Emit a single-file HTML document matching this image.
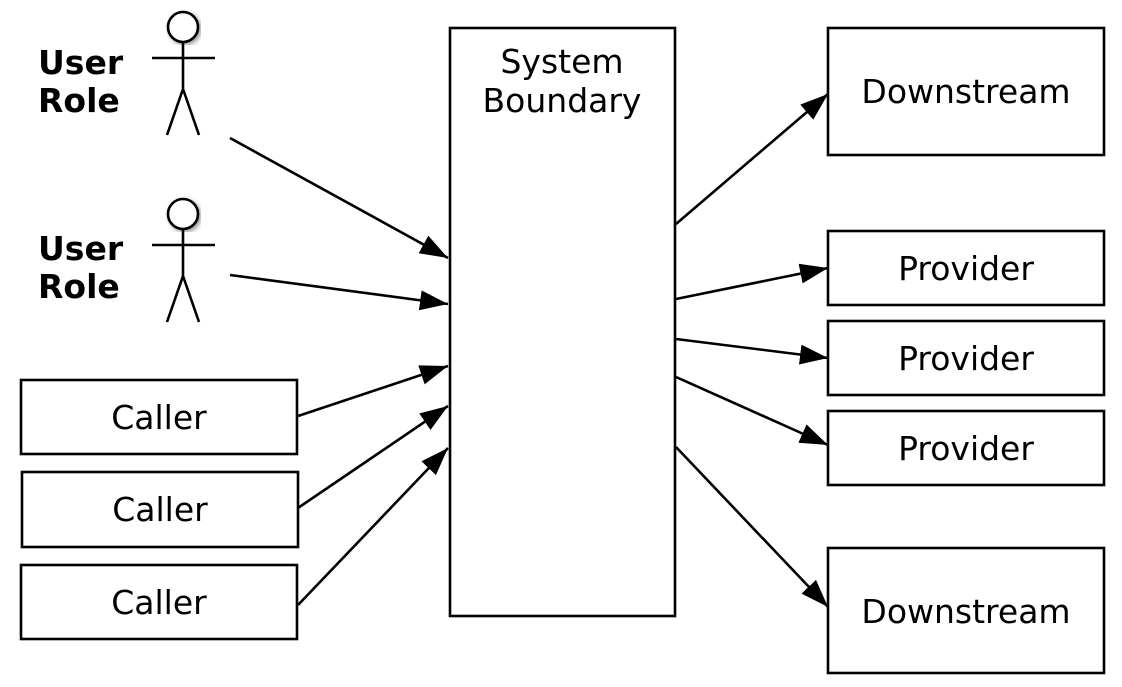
<!DOCTYPE html>
<html><head><style>body{margin:0;background:#fff}</style></head><body>
<svg width="1122" height="682" xmlns="http://www.w3.org/2000/svg" font-family="DejaVu Sans, sans-serif">
<defs>
<marker id="ah" viewBox="0 0 28 20" refX="28" refY="10" markerWidth="28" markerHeight="20" markerUnits="userSpaceOnUse" orient="auto"><path d="M0,0 L28,10 L0,20 z" fill="#000"/></marker>
<filter id="sh"><feDropShadow dx="2" dy="2" stdDeviation="2" flood-opacity="0.4"/></filter>
</defs>
<g fill="none" stroke="#000" stroke-width="2.6">
<rect x="450" y="28" width="225" height="588"/>
<rect x="828" y="28" width="276" height="127"/>
<rect x="828" y="231" width="276" height="74"/>
<rect x="828" y="321" width="276" height="74"/>
<rect x="828" y="411" width="276" height="74"/>
<rect x="828" y="548" width="276" height="125"/>
<rect x="21" y="380" width="276" height="74"/>
<rect x="22" y="472" width="276" height="75"/>
<rect x="21" y="565" width="276" height="74"/>
<circle cx="183" cy="27" r="15" fill="#fff" filter="url(#sh)"/>
<path d="M152,58H215M183,42V89L167,135M183,89L199,135"/>
<circle cx="183" cy="214" r="15" fill="#fff" filter="url(#sh)"/>
<path d="M152,245H215M183,229V276L167,322M183,276L199,322"/>
<g marker-end="url(#ah)">
<line x1="230" y1="138" x2="448" y2="258"/>
<line x1="230" y1="275" x2="448" y2="304"/>
<line x1="298" y1="416" x2="448" y2="366"/>
<line x1="298" y1="508" x2="448" y2="406"/>
<line x1="298" y1="605" x2="448" y2="448"/>
<line x1="676" y1="224" x2="828" y2="94"/>
<line x1="676" y1="299" x2="828" y2="268"/>
<line x1="676" y1="339" x2="828" y2="358"/>
<line x1="676" y1="377" x2="828" y2="445"/>
<line x1="676" y1="447" x2="828" y2="607"/>
</g>
</g>
<g font-size="33" text-anchor="middle" fill="#000">
<text x="562" y="73">System</text>
<text x="562" y="112">Boundary</text>
<text x="966" y="103">Downstream</text>
<text x="966" y="280">Provider</text>
<text x="966" y="370">Provider</text>
<text x="966" y="460">Provider</text>
<text x="966" y="623">Downstream</text>
<text x="159" y="429">Caller</text>
<text x="160" y="521">Caller</text>
<text x="159" y="614">Caller</text>
</g>
<g font-size="33" font-weight="bold" fill="#000">
<text x="38" y="74">User</text>
<text x="38" y="112">Role</text>
<text x="38" y="260">User</text>
<text x="38" y="298">Role</text>
</g>
</svg>
</body></html>
